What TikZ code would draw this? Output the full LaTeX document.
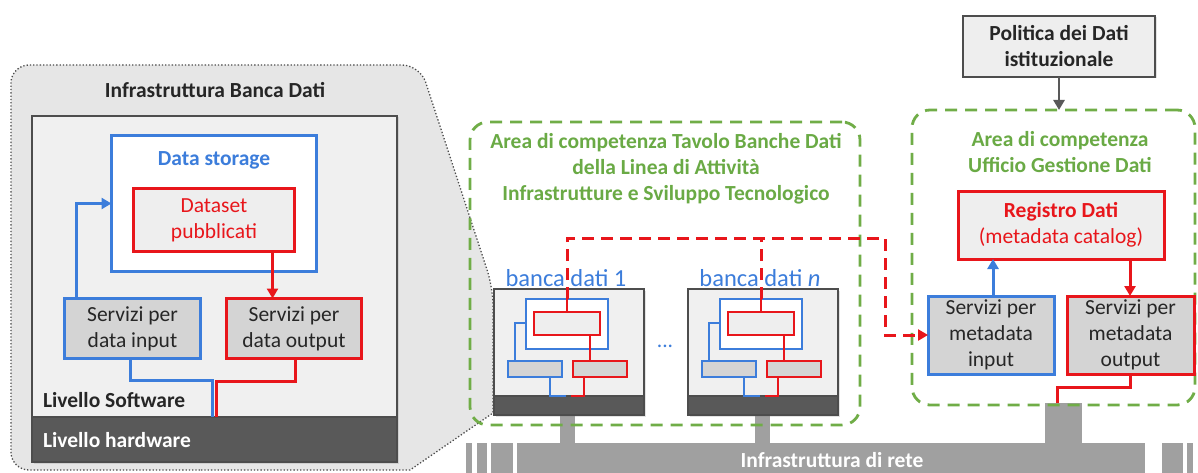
\documentclass[tikz,border=0pt]{standalone}
\usepackage{fontspec}
\setmainfont{Carlito}
\usetikzlibrary{arrows.meta,shadows}

\definecolor{cblue}{HTML}{3C7DDB}
\definecolor{cred}{HTML}{E8161B}
\definecolor{cgreen}{HTML}{70AD47}
\definecolor{cgreentext}{HTML}{6AAA45}
\definecolor{cdark}{HTML}{595959}
\definecolor{cframe}{HTML}{4D4D4D}
\definecolor{cbar}{HTML}{A0A0A0}
\definecolor{cpanel}{HTML}{E6E6E6}
\definecolor{cinner}{HTML}{F0F0F0}
\definecolor{cservice}{HTML}{D4D4D4}
\definecolor{clight}{HTML}{EEEEEE}

% one small database: frame, storage, published datasets, in/out services
\newcommand\minidb[3]{%
\begin{scope}[shift={(#2,0)}, name prefix=#1-]
  \node[draw=cframe, line width=2pt, fill=cinner, sz={150}{126}, shd] (frame) at (494,289) {};
  \node[draw=cframe, fill=cdark, line width=2pt, sz={150}{19}, anchor=south west] (hw) at (frame.south west) {};
  \node[mbl, fill=white, sz={82}{50}] (st) at (526,299) {};
  \node[mrd, fill=clight, sz={66}{23}] (pub) at (534,312) {};
  \node[mbl, fill=cservice, sz={54}{16}] (in) at (508,361) {};
  \node[mrd, fill=cservice, sz={54}{16}] (out) at (573,361) {};
  \draw[mbl] ([xshift=7pt]in.north west) |- ([yshift=-24pt]st.north west);
  \coordinate (pd) at ([xshift=56pt]pub.south west);
  \draw[mrd] (pd) -- (pd |- out.north);
  \draw[mbl] ([xshift=42pt]in.south west) |- ([xshift=72pt]hw.north west);
  \draw[mrd] ([xshift=11pt]out.south west) |- ([xshift=77pt]hw.north west);
  \coordinate (top) at ([xshift=33pt]pub.north west);
  \coordinate (up) at (top |- st.north);
  \draw[mrd] (top) -- (up);
  \node[text=cblue, font=\fontsize{24.5}{28}\selectfont, anchor=base] (lbl) at (566,286) {#3};
\end{scope}}

\begin{document}
\begin{tikzpicture}[x=1pt,y=-1pt,
  every node/.style={font=\fontsize{21.5}{26}\selectfont, inner sep=0pt, outer sep=0pt, text=black!85},
  sz/.style 2 args={minimum width=#1, minimum height=#2, anchor=north west},
  bx/.style={draw, line width=3pt, align=center},
  shd/.style={drop shadow={opacity=0.22, shadow xshift=1.5pt, shadow yshift=-1.5pt}},
  bf/.style={font=\fontsize{21.5}{26}\selectfont\bfseries},
  bl/.style={draw=cblue, line width=3pt},
  rd/.style={draw=cred, line width=3pt},
  arr/.style={-{Triangle[length=10pt,width=11pt]}},
  gdash/.style={draw=cgreen, line width=2.8pt, dash pattern=on 12pt off 8pt, rounded corners=18pt},
  rdash/.style={draw=cred, line width=3pt, dash pattern=on 12pt off 7pt},
  mbl/.style={draw=cblue, line width=2.5pt},
  mrd/.style={draw=cred, line width=2.5pt},
  dotline/.style={draw=black!70, line width=1.3pt, dash pattern=on 1.3pt off 2pt},
]
\useasboundingbox (0,0) rectangle (1198,473);
\fill[white] (0,0) rectangle (1198,473);

% magnifier outline from the database panel to the first database
\path[fill=cpanel, dotline] (200,470) [rounded corners=18pt] -- (11,470) -- (11,65) -- (420,65)
  -- (493,288) [sharp corners] -- (493,413) -- (410,470) -- cycle;

% network backbone
\node[fill=cbar, sz={15}{28}, anchor=north] (s1) at (567,415) {};
\node[fill=cbar, sz={15}{28}, anchor=north] (s2) at (762,415) {};
\node[fill=cbar, sz={37}{40}] (s3) at (1045,403) {};
\node[fill=cbar, sz={628}{30}] (net) at (517,443) {};
\fill[cbar] (466,443) rectangle (472,473);
\fill[cbar] (477,443) rectangle (487,473);
\fill[cbar] (491,443) rectangle (513,473);
\fill[cbar] (1162,443) rectangle (1183,473);
\fill[cbar] (1187,443) rectangle (1193,473);
\node[bf, text=white] (netl) at (832,460) {Infrastruttura di rete};

% competence areas
\node[gdash, sz={390}{303}] (area1) at (470,122) {};
\node[bf, text=cgreentext, align=center] (area1l) at (666,169)
  {Area di competenza Tavolo Banche Dati\\della Linea di Attività\\Infrastrutture e Sviluppo Tecnologico};
\node[gdash, sz={283}{295}] (area2) at (912,110) {};
\node[bf, text=cgreentext, align=center] (area2l) at (1060,152) {Area di competenza\\Ufficio Gestione Dati};

% database infrastructure panel
\node[bf] (title) at (215,90) {Infrastruttura Banca Dati};
\node[draw=cframe, line width=2.5pt, fill=cinner, sz={365}{346}, shd] (ibd) at (32,116) {};
\node[draw=cframe, line width=2.5pt, fill=cdark, sz={365}{45}, anchor=south west] (hw) at (ibd.south west) {};
\node[bf, anchor=west] (lsw) at (43,400) {Livello Software};
\node[bf, anchor=west, text=white] (lhw) at (43,440) {Livello hardware};

\node[bx, draw=cblue, fill=white, sz={205}{136}, shd] (ds) at (111.5,135.5) {};
\node[bf, text=cblue] (dsl) at (214,160) {Data storage};
\node[bx, draw=cred, fill=clight, sz={161}{63}, text=cred] (dsp) at (133.5,188.5) {Dataset\\pubblicati};
\node[bx, draw=cblue, fill=cservice, sz={136}{60}, shd] (inp) at (64.5,298.5) {Servizi per\\data input};
\node[bx, draw=cred, fill=cservice, sz={135}{60}, shd] (outp) at (226.5,298.5) {Servizi per\\data output};

\draw[bl, arr] ([xshift=12pt]inp.north west) |- ([yshift=-68pt]ds.north west);
\coordinate (r1) at ([xshift=139pt]dsp.south west);
\draw[rd, arr] (r1) -- (r1 |- outp.north);
\coordinate (b1) at ([xshift=66pt]inp.south west);
\coordinate (b2) at (212,380);
\draw[bl] (b1) |- (b2) -- (b2 |- hw.north);
\coordinate (r2) at ([xshift=69pt]outp.south west);
\coordinate (r3) at (216,381);
\draw[rd] (r2) |- (r3) -- (r3 |- hw.north);

% databases
\minidb{b1}{0}{banca dati 1}
\minidb{bn}{194}{banca dati \textit{n}}
\node[text=cblue, anchor=base] (dots) at (665,347) {...};

% registry area
\node[bx, draw=cframe, line width=2.5pt, fill=clight, sz={192}{61}, bf, shd] (pol) at (963,16) {Politica dei Dati\\istituzionale};
\draw[draw=cdark, line width=2.5pt, arr] (pol.south) -- (pol.south |- area2.north);
\node[bx, draw=cred, fill=clight, sz={206}{68}, text=cred, shd] (reg) at (958,191) {\textbf{Registro Dati}\\(metadata catalog)};
\node[bx, draw=cblue, fill=cservice, sz={126}{78}, shd] (mi) at (928,296) {Servizi per\\metadata\\input};
\node[bx, draw=cred, fill=cservice, sz={127}{78}, shd] (mo) at (1067,296) {Servizi per\\metadata\\output};
\coordinate (u1) at ([xshift=65pt]mi.north west);
\draw[bl, arr] (u1) -- (u1 |- reg.south);
\coordinate (u2) at ([xshift=63pt]mo.north west);
\draw[rd, arr] (u2 |- reg.south) -- (u2);
\coordinate (u3) at ([xshift=63pt]mo.south west);
\coordinate (u4) at (1057,387);
\draw[rd] (u3) |- (u4) -- (u4 |- s3.north);

% metadata harvesting from the databases
\coordinate (jn) at (885,238);
\draw[rdash, arr] (b1-up) |- (jn) |- (mi.west);
\draw[rdash] (bn-up) -- (bn-up |- jn);
\end{tikzpicture}
\end{document}
